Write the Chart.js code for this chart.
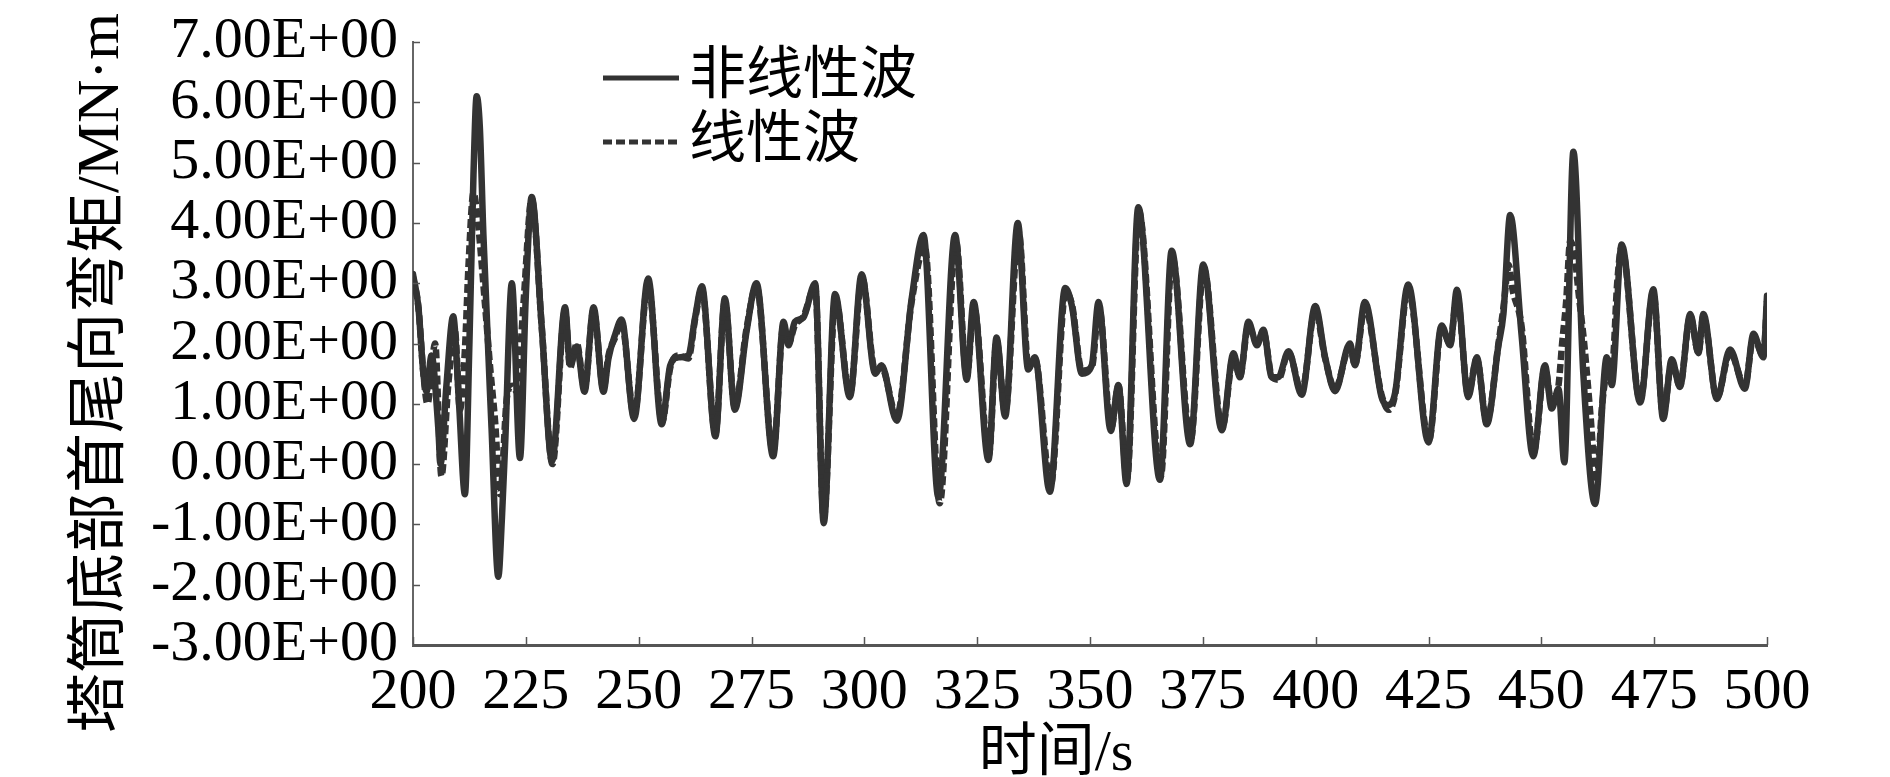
<!DOCTYPE html>
<html><head><meta charset="utf-8">
<script src="https://cdn.jsdelivr.net/npm/chart.js@4.4.1/dist/chart.umd.min.js"></script>
<style>html,body{margin:0;padding:0;background:#fff;}#wrap{width:1890px;height:777px;}</style>
</head><body><div id="wrap"><canvas id="c" width="1890" height="777"></canvas></div>
<script>
const seriesNames = ['非线性波', '线性波'];
const xTitle = '时间/s';
const yTitle = '塔筒底部首尾向弯矩/MN·m';
const xTickValues = [200, 225, 250, 275, 300, 325, 350, 375, 400, 425, 450, 475, 500];
const yTickValues = [-3, -2, -1, 0, 1, 2, 3, 4, 5, 6, 7];

const timeNonlinear = [200,201.2,202.3,203.0,204.1,205.6,206.1,207.4,208.9,210.2,211.5,212.5,213.4,214.1,214.8,215.6,217.4,218.9,219.7,220.4,221.9,223.7,225.0,226.3,228.5,230.8,233.7,234.8,236.3,238.0,240.0,242.2,243.3,244.8,246.2,249.0,252.1,255.1,257.0,258.8,261.0,262.5,264.0,267.0,269.1,271.3,273.9,276.1,279.8,282.1,283.2,284.6,286.5,289.1,291.0,293.5,296.8,299.4,302.4,303.8,307.2,310.5,313.1,316.4,320.1,322.7,324.2,327.5,329.3,331.2,334.0,336.3,337.8,341.1,344.5,346.0,348.2,350.4,351.9,354.6,356.3,358.1,360.7,365.5,368.1,372.2,375.1,379.2,381.8,383.2,385.1,387.0,388.4,390.3,391.7,394.0,396.9,399.9,402.1,404.3,407.6,408.7,410.9,414.6,416.1,417.6,420.5,425.0,427.9,429.8,431.3,433.8,435.7,437.9,440.5,441.6,443.1,445.6,448.2,450.8,452.3,453.8,455.1,457.1,459.3,461.9,464.5,465.6,467.8,471.9,474.8,477.0,478.9,480.7,483.0,484.8,485.9,488.9,491.8,495.1,497.0,499.2,500];
const momentNonlinear = [3.15,2.6,1.5,1.2,1.8,0.6,0.0,1.3,2.45,1.0,-0.5,2.0,4.8,6.1,5.6,3.8,0.6,-1.87,-0.9,0.3,3.0,0.1,2.8,4.43,2.3,0.05,2.6,1.65,1.95,1.2,2.6,1.2,1.75,2.15,2.4,0.75,3.08,0.66,1.64,1.77,1.8,2.43,2.95,0.46,2.75,0.9,2.2,3.0,0.13,2.36,1.97,2.36,2.43,3.0,-0.98,2.82,1.11,3.15,1.5,1.64,0.72,2.75,3.8,-0.55,3.8,1.4,2.69,0.07,2.1,0.79,4.0,1.57,1.77,-0.46,2.92,2.62,1.5,1.64,2.69,0.55,1.31,-0.33,4.26,-0.26,3.54,0.33,3.31,0.56,1.84,1.44,2.36,1.97,2.23,1.44,1.44,1.87,1.15,2.62,1.77,1.21,2.0,1.64,2.69,1.11,0.98,1.18,2.98,0.36,2.3,1.97,2.89,1.11,1.77,0.66,1.97,2.49,4.13,2.16,0.13,1.64,0.92,1.25,0.03,5.18,1.5,-0.66,1.77,1.31,3.64,1.02,2.9,0.75,1.74,1.28,2.49,1.84,2.49,1.08,1.9,1.25,2.16,1.77,2.79];

const timeLinear = [200,201.2,202.3,203.2,204.9,206.3,207.8,209.3,210.4,211.5,212.3,213.4,214.4,216.0,217.1,218.2,219.3,220.8,222.0,223.0,223.7,224.6,226.3,228.5,230.9,233.7,234.8,236.3,238.0,240.0,242.2,243.3,244.8,246.2,249.0,252.1,255.2,257.0,258.8,261.0,262.5,264.0,267.0,269.1,271.3,273.9,276.1,279.8,282.1,283.2,284.6,286.5,289.1,291.0,293.6,296.8,299.5,302.4,303.8,307.2,310.5,313.4,316.7,320.3,322.7,324.3,327.6,329.3,331.2,334.2,336.4,337.8,341.3,344.6,346.0,348.2,350.4,352.0,354.7,356.3,358.2,360.8,365.7,368.2,372.3,375.2,379.3,381.8,383.2,385.1,387.0,388.4,390.3,391.7,394.0,396.9,399.9,402.1,404.3,407.6,408.7,410.9,414.6,416.2,417.6,420.5,425.1,427.9,429.8,431.3,433.8,435.7,437.9,440.5,441.6,442.8,443.6,445.6,448.3,450.8,452.3,453.8,454.6,455.5,456.4,457.3,458.3,459.5,460.9,462.2,463.5,464.8,465.8,466.8,467.8,471.9,474.8,477.0,478.9,480.7,483.0,484.8,485.9,488.9,491.8,495.1,497.0,499.2,500];
const momentLinear = [3.1,2.6,1.5,1.0,2.0,-0.2,1.3,2.2,0.9,1.9,3.3,4.5,4.0,2.6,1.6,0.7,-0.5,1.1,1.3,1.2,1.8,2.8,4.4,2.3,0.0,2.55,1.6,2.0,1.25,2.55,1.25,1.8,2.1,2.35,0.8,3.0,0.7,1.6,1.8,1.75,2.4,2.9,0.5,2.7,0.95,2.25,2.95,0.2,2.3,2.0,2.3,2.45,2.95,-0.9,2.75,1.15,3.1,1.55,1.6,0.8,2.7,3.6,-0.65,3.7,1.45,2.6,0.15,2.05,0.85,3.85,1.6,1.75,-0.35,2.85,2.65,1.55,1.6,2.6,0.6,1.3,-0.25,4.2,-0.2,3.45,0.4,3.25,0.6,1.8,1.45,2.3,2.0,2.2,1.45,1.4,1.85,1.2,2.55,1.75,1.25,1.95,1.65,2.6,1.15,0.9,1.15,2.9,0.4,2.25,2.0,2.8,1.15,1.75,0.7,2.0,2.6,3.3,2.9,2.3,0.2,1.6,1.0,1.3,2.0,2.7,3.7,3.5,2.8,2.0,0.8,-0.3,1.0,1.6,1.7,3.0,3.6,1.05,2.85,0.8,1.7,1.3,2.45,1.85,2.45,1.1,1.85,1.3,2.1,1.8,2.7];

const SERIF = '"Liberation Serif", "Times New Roman", "Noto Sans CJK SC", serif';
const LINE_COLOR = '#333333';

const innerTicks = {
  id: 'innerTicks',
  afterDraw(chart) {
    const {ctx, scales: {x, y}, chartArea: a} = chart;
    ctx.save();
    ctx.strokeStyle = '#555';
    ctx.lineWidth = 1.5;
    x.ticks.forEach(t => {
      const px = Math.round(x.getPixelForValue(t.value)) + 0.5;
      ctx.beginPath(); ctx.moveTo(px, a.bottom); ctx.lineTo(px, a.bottom - 8); ctx.stroke();
    });
    y.ticks.forEach(t => {
      const py = Math.round(y.getPixelForValue(t.value)) + 0.5;
      ctx.beginPath(); ctx.moveTo(a.left, py); ctx.lineTo(a.left + 7, py); ctx.stroke();
    });
    ctx.restore();
  }
};

const textLayer = {
  id: 'textLayer',
  afterDraw(chart) {
    const {ctx, chartArea: a} = chart;
    const ds = chart.data.datasets;
    ctx.save();
    const lx0 = a.left + 190, lx1 = a.left + 266, rows = [78, 142];
    ds.forEach((d, i) => {
      ctx.strokeStyle = d.borderColor;
      ctx.lineWidth = 5;
      ctx.setLineDash(d.borderDash || []);
      ctx.beginPath(); ctx.moveTo(lx0, rows[i]); ctx.lineTo(lx1, rows[i]); ctx.stroke();
      ctx.setLineDash([]);
      ctx.fillStyle = '#000';
      ctx.font = '57px ' + SERIF;
      ctx.textAlign = 'left'; ctx.textBaseline = 'middle';
      ctx.fillText(d.label, lx1 + 10, rows[i]);
    });
    ctx.font = '58px ' + SERIF;
    ctx.textAlign = 'center'; ctx.textBaseline = 'middle';
    ctx.fillText(xTitle, (a.left + a.right) / 2 - 34, 755);
    ctx.translate(102, 733);
    ctx.rotate(-Math.PI / 2);
    ctx.font = '60px ' + SERIF;
    ctx.textAlign = 'left'; ctx.textBaseline = 'middle';
    ctx.fillText(yTitle, 0, 0);
    ctx.restore();
  }
};

const toPoints = (ts, vs) => ts.map((t, i) => ({x: t, y: vs[i]}));

new Chart(document.getElementById('c'), {
  type: 'line',
  data: {
    datasets: [
      {label: seriesNames[0], data: toPoints(timeNonlinear, momentNonlinear), borderColor: LINE_COLOR, borderWidth: 6.5, borderJoinStyle: 'round', borderCapStyle: 'round', pointRadius: 0, cubicInterpolationMode: 'monotone', fill: false, order: 2},
      {label: seriesNames[1], data: toPoints(timeLinear, momentLinear), borderColor: LINE_COLOR, borderWidth: 6.5, borderJoinStyle: 'round', borderDash: [9, 4], pointRadius: 0, cubicInterpolationMode: 'monotone', fill: false, order: 1}
    ]
  },
  options: {
    responsive: false,
    animation: false,
    devicePixelRatio: 1,
    layout: {padding: {left: 0, right: 123, top: 42, bottom: 0}},
    plugins: {legend: {display: false}, tooltip: {enabled: false}},
    scales: {
      x: {
        type: 'linear', min: 200, max: 500,
        afterBuildTicks: s => { s.ticks = xTickValues.map(v => ({value: v})); },
        afterFit: s => { s.height = 132; s.paddingLeft = 0; s.paddingRight = 0; },
        grid: {display: false, drawTicks: false},
        border: {display: true, color: '#555', width: 3},
        ticks: {font: {family: SERIF, size: 58, lineHeight: 1.2}, color: '#000', padding: 13, maxRotation: 0, autoSkip: false}
      },
      y: {
        type: 'linear', min: -3, max: 7,
        afterBuildTicks: s => { s.ticks = yTickValues.map(v => ({value: v})); },
        afterFit: s => { s.width = 413; s.paddingTop = 0; s.paddingBottom = 0; },
        grid: {display: false, drawTicks: false},
        border: {display: true, color: '#666', width: 2},
        ticks: {
          font: {family: SERIF, size: 58, lineHeight: 1.2}, color: '#000', padding: 15, autoSkip: false,
          callback: v => (v < 0 ? '-' : '') + Math.abs(v).toFixed(2) + 'E+00'
        }
      }
    }
  },
  plugins: [innerTicks, textLayer]
});
</script>
</body></html>
